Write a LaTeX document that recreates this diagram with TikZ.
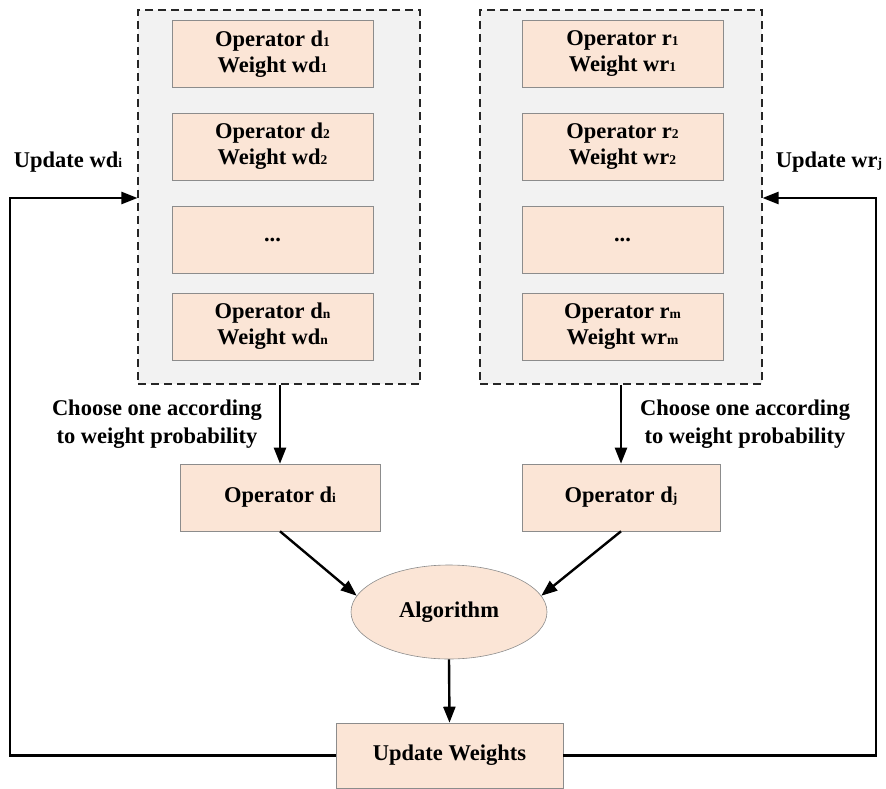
\documentclass[tikz,border=0pt]{standalone}
\usepackage{fontspec}
\setmainfont{Liberation Serif}
\usepackage{tikz}
\usetikzlibrary{arrows.meta, positioning, calc, shapes.geometric}
\definecolor{peach}{HTML}{FBE5D6}
\definecolor{panel}{HTML}{F2F2F2}
\definecolor{edgegray}{HTML}{8C8C8C}
\newcommand{\lo}[1]{{\fontsize{13.5}{13.5}\selectfont #1}}
\tikzset{
    opbox/.style={draw=edgegray, line width=0.6pt, fill=peach, minimum width=201pt, minimum height=67pt, align=center, inner sep=0pt},
    panelbox/.style={draw=black!85, dash pattern=on 8pt off 5pt, line width=1.1pt, fill=panel, minimum width=282pt, minimum height=374pt, inner sep=0pt},
    arr/.style={-{Triangle[length=16pt,width=12pt]}, line width=2.4pt},
    lbl/.style={align=center, inner sep=0pt}
}
\begin{document}
\begin{tikzpicture}[x=1pt, y=-1pt, font=\fontsize{22.5}{26}\selectfont\bfseries]
    \useasboundingbox (0,0) rectangle (886,789);
    \node[panelbox] (L) at (279,197) {};
    \node[panelbox] (R) at (621,197) {};

    \node[opbox] (d1) at (272.5,54) {Operator d\lo{1}\\Weight wd\lo{1}};
    \node[opbox] (d2) at (272.5,146.5) {Operator d\lo{2}\\Weight wd\lo{2}};
    \node[opbox] (d3) at (272.5,239.5) {...};
    \node[opbox] (dn) at (272.5,326.5) {Operator d\lo{n}\\Weight wd\lo{n}};

    \node[opbox] (r1) at (622.5,54) {Operator r\lo{1}\\Weight wr\lo{1}};
    \node[opbox] (r2) at (622.5,146.5) {Operator r\lo{2}\\Weight wr\lo{2}};
    \node[opbox] (r3) at (622.5,239.5) {...};
    \node[opbox] (rm) at (622.5,326.5) {Operator r\lo{m}\\Weight wr\lo{m}};

    \node[opbox, minimum width=200pt] (di) at (280,497.5) {Operator d\lo{i}};
    \node[opbox, minimum width=198pt] (dj) at (621,497.5) {Operator d\lo{j}};
    \node[ellipse, draw=edgegray, line width=0.6pt, fill=peach, minimum width=196pt, minimum height=94pt, inner sep=0pt] (alg) at (449,612) {Algorithm};
    \node[opbox, minimum width=227pt, minimum height=65pt] (upd) at (449.5,755.5) {Update Weights};

    \node[lbl] (chl) at (157,424) {Choose one according\\[2pt]to weight probability};
    \node[lbl] (chr) at (745,424) {Choose one according\\[2pt]to weight probability};
    \node[lbl] (uwl) at (68,162) {Update wd\lo{i}};
    \node[lbl] (uwr) at (829,162) {Update wr\lo{j}};

    \coordinate (lc) at (10,198);
    \coordinate (rc) at (876,198);

    \draw[arr] (di |- L.south) -- (di.north);
    \draw[arr] (dj |- R.south) -- (dj.north);
    \draw[arr] (di.south) -- (alg.170);
    \draw[arr] (dj.south) -- (alg.10);
    \draw[arr] (alg.south) -- (upd.north);
    \draw[arr] (upd.west) -| (lc) -- (L.west |- lc);
    \draw[arr] (upd.east) -| (rc) -- (R.east |- rc);
\end{tikzpicture}
\end{document}
